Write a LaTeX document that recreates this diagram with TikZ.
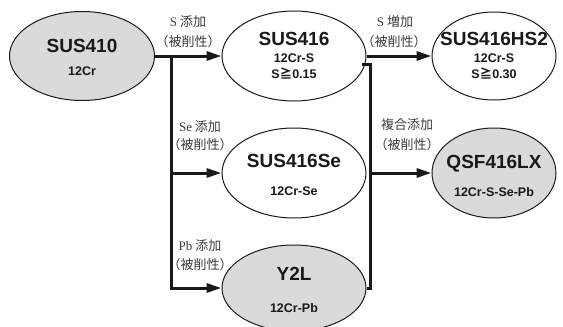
\documentclass[tikz,border=0pt]{standalone}
\usepackage{fontspec}
\setmainfont{Liberation Serif}
\newfontfamily\cjk{Noto Sans CJK JP}
\newfontfamily\hv{Liberation Sans}
\usetikzlibrary{shapes.geometric,arrows.meta}
\definecolor{oval}{RGB}{218,218,218}
\definecolor{ink}{RGB}{25,25,25}
\newcommand{\geqq}{{\cjk\bfseries ≧}}
\begin{document}
\begin{tikzpicture}[x=1pt,y=-1pt,
  blob/.style={ellipse,draw=ink,line width=1pt,inner sep=0pt},
  grayblob/.style={blob,fill=oval},
  whiteblob/.style={blob,fill=white},
  ttl/.style={anchor=base,inner sep=0pt,font=\hv\bfseries\fontsize{19}{19}\selectfont,text=ink},
  sub/.style={anchor=base,inner sep=0pt,font=\hv\bfseries\fontsize{12.5}{12.5}\selectfont,text=ink},
  lab/.style={inner sep=0pt,font=\cjk\fontsize{13}{13}\selectfont,text=ink!85},
  wire/.style={line width=3pt,draw=ink},
  arr/.style={wire,-{Triangle[length=15pt,width=9pt]}}
]
\useasboundingbox (0,0) rectangle (563,327);
% ellipses
\node[grayblob,minimum width=145pt,minimum height=89pt] (a) at (82,56) {};
\node[whiteblob,minimum width=144pt,minimum height=90pt] (b) at (294,56) {};
\node[whiteblob,minimum width=124pt,minimum height=88pt] (c) at (494,56) {};
\node[whiteblob,minimum width=144pt,minimum height=90pt] (d) at (294,173) {};
\node[grayblob,minimum width=124pt,minimum height=90pt] (e) at (494,173) {};
\node[grayblob,minimum width=144pt,minimum height=86pt] (f) at (294,288) {};
% texts
\node[ttl] (at) at (82,52) {SUS410};
\node[sub] (as) at (82,75) {12Cr};
\node[ttl] (bt) at (294,45) {SUS416};
\node[sub] (bs) at (294,62) {12Cr-S};
\node[sub] (bu) at (294,78) {S\geqq0.15};
\node[ttl] (ct) at (494,45) {SUS416HS2};
\node[sub] (cs) at (494,62) {12Cr-S};
\node[sub] (cu) at (494,78) {S\geqq0.30};
\node[ttl] (dt) at (294,167) {SUS416Se};
\node[sub] (ds) at (294,195) {12Cr-Se};
\node[ttl] (et) at (494,168) {QSF416LX};
\node[sub] (es) at (494,196) {12Cr-S-Se-Pb};
\node[ttl] (ft) at (294,280) {Y2L};
\node[sub] (fs) at (294,312) {12Cr-Pb};
% labels
\node[lab] (l1a) at (188,22) {{\rmfamily S} 添加};
\node[lab] (l1b) at (188,42) {（被削性）};
\node[lab] (l2a) at (200,127) {{\rmfamily Se} 添加};
\node[lab] (l2b) at (200,145) {（被削性）};
\node[lab] (l3a) at (200,246) {{\rmfamily Pb} 添加};
\node[lab] (l3b) at (200,265) {（被削性）};
\node[lab] (l4a) at (395,22) {{\rmfamily S} 増加};
\node[lab] (l4b) at (394,42) {（被削性）};
\node[lab] (l5a) at (407,125) {複合添加};
\node[lab] (l5b) at (407,145) {（被削性）};
% connectors
\coordinate (j1) at (171,56);
\draw[arr] (a.east) -- (b.west);
\draw[arr] (j1) |- (f.west);
\draw[arr] (j1 |- d.west) -- (d.west);
\draw[arr] (b.east) -- (c.west);
\coordinate (k1) at (362,64.5);
\coordinate (k2) at (370.5,64.5);
\draw[wire] (k1) -- (k2) |- (f.east);
\draw[arr] (k2 |- e.west) -- (e.west);
\end{tikzpicture}
\end{document}
